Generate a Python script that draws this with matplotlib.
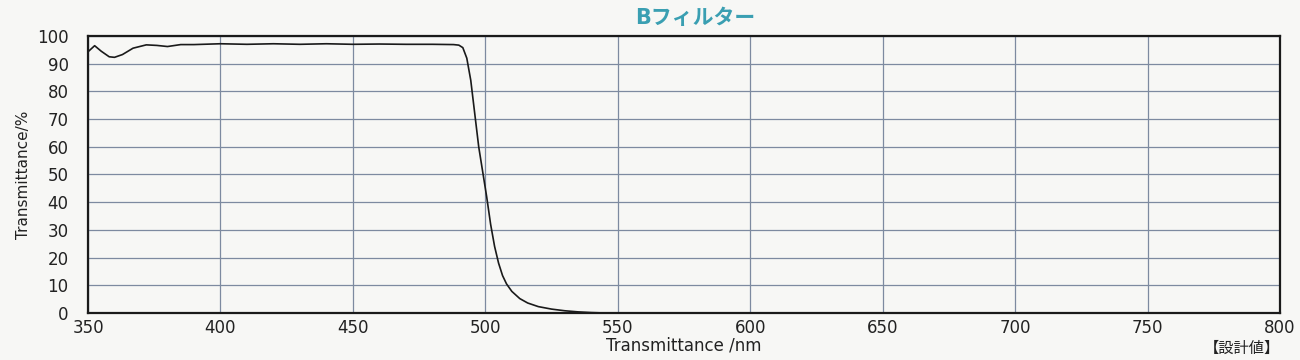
import numpy as np
import matplotlib
matplotlib.use('Agg')
import matplotlib.pyplot as plt

plt.rcParams['font.family'] = ['DejaVu Sans', 'Noto Sans CJK JP']

# wavelength (nm) and transmittance (%)
wavelength = [350, 352.5, 355, 358, 360, 363, 367, 372, 376, 380, 385, 390, 400, 410, 420, 430,
              440, 450, 460, 470, 480, 488, 490, 491.5, 493, 494.5, 496, 497.5, 499, 500.5,
              502, 503.5, 505, 506.5, 508, 510, 513, 516, 520, 525, 530, 535, 540, 545, 560,
              600, 700, 800]
transmittance = [94.3, 96.5, 94.5, 92.5, 92.3, 93.3, 95.6, 96.8, 96.6, 96.2, 96.9, 96.9, 97.2,
                 97.0, 97.2, 97.0, 97.2, 97.0, 97.1, 97.0, 97.0, 96.9, 96.7, 95.8, 92.0, 84.0,
                 72.0, 60.0, 51.0, 42.0, 32.0, 24.0, 18.0, 13.5, 10.5, 7.8, 5.2, 3.6, 2.3,
                 1.4, 0.8, 0.4, 0.15, 0.0, 0.0, 0.0, 0.0, 0.0]

xticks = np.arange(350, 801, 50)
yticks = np.arange(0, 101, 10)

fig = plt.figure(figsize=(13, 3.6), dpi=100)
fig.patch.set_facecolor('#f7f7f5')
ax = fig.add_axes([0.0677, 0.1306, 0.9169, 0.7694])
ax.set_facecolor('#f7f7f5')

ax.plot(wavelength, transmittance, color='#1a1a1a', lw=1.2)

ax.set_xlim(350, 800)
ax.set_ylim(0, 100)
ax.set_xticks(xticks)
ax.set_yticks(yticks)
ax.grid(True, color='#7d8aa0', lw=0.9)
ax.tick_params(length=0, labelsize=12, colors='#222222')
ax.tick_params(axis='y', pad=14)
ax.tick_params(axis='x', pad=4)
for s in ax.spines.values():
    s.set_color('#1a1a1a')
    s.set_linewidth(1.6)

ax.set_xlabel('Transmittance /nm', fontsize=12, color='#222222', labelpad=0)
ax.set_ylabel('Transmittance/%', fontsize=11, color='#222222', labelpad=4)
fig.text(0.535, 0.95, 'Bフィルター', ha='center', va='center', fontsize=15,
         color='#3a9fb2', fontweight='bold')
fig.text(0.955, 0.033, '【設計値】', ha='center', va='center', fontsize=11, color='#222222')

fig.savefig('out.png', dpi=100, facecolor=fig.get_facecolor())
